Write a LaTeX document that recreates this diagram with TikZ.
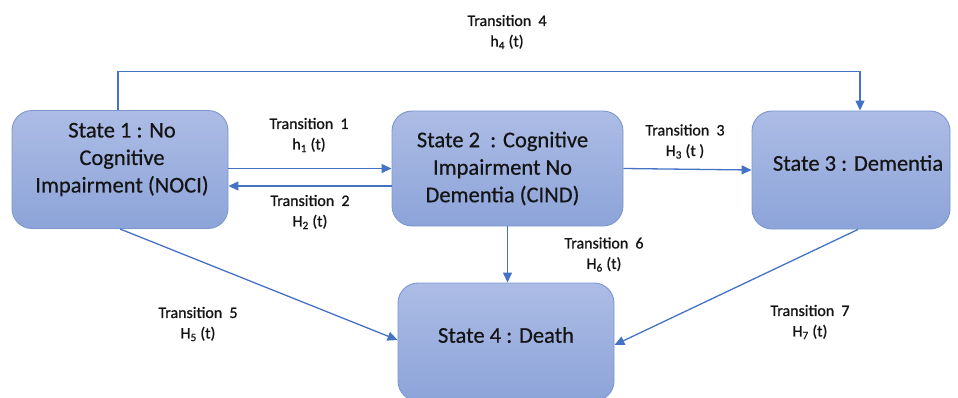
\documentclass[tikz,border=0pt]{standalone}
\usepackage{fontspec}
\setmainfont{Carlito}
\newfontfamily\heavyfont{Carlito}[FakeBold=0.5]
\newfontfamily\labelfont{Carlito}[FakeBold=0.9]
\usetikzlibrary{arrows.meta,calc}
\definecolor{boxtop}{HTML}{ACBCE5}
\definecolor{boxbot}{HTML}{8DA4D9}
\definecolor{boxline}{HTML}{7B96D0}
\definecolor{arrcol}{HTML}{4472C4}
\definecolor{txt}{HTML}{141414}
\tikzset{
  statebox/.style={rounded corners=20pt, draw=boxline, line width=0.9pt,
    top color=boxtop, bottom color=boxbot, inner sep=0pt},
  statetext/.style={text=txt, font=\heavyfont\fontsize{22.5}{27.5}\selectfont, align=center, inner sep=0pt},
  translabel/.style={text=txt, font=\labelfont\fontsize{16}{20.5}\selectfont, align=center, inner sep=0pt},
  arr/.style={draw=arrcol, line width=1.3pt, -{Triangle[length=10pt,width=9pt]}},
}
\begin{document}
\begin{tikzpicture}[x=1pt,y=-1pt]
\useasboundingbox (0,0) rectangle (958,397);
% boxes
\node[statebox, minimum width=216pt, minimum height=118pt] (s1) at (120,169.5) {};
\node[statebox, minimum width=231pt, minimum height=115pt] (s2) at (507.5,168.5) {};
\node[statebox, minimum width=198pt, minimum height=118pt] (s3) at (851,170) {};
\node[statebox, minimum width=216pt, minimum height=118pt] (s4) at (506,342) {};
% box texts
\node[statetext] (s1t) at ([xshift=2pt,yshift=10pt]s1.center) {State 1 : No\\Cognitive\\Impairment (NOCI)};
\node[statetext] (s2t) at ([xshift=-5pt]s2.center) {State 2\ \ : Cognitive\\Impairment No\\Dementia (CIND)};
\node[statetext] (s3t) at ([xshift=7pt,yshift=7pt]s3.center) {State 3 : Dementia};
\node[statetext] (s4t) at ([yshift=7pt]s4.center) {State 4 : Death};
% connectors
\draw[arr] (s1.east |- s2.west) -- (s2.west);
\draw[arr] ([yshift=-17.5pt]s2.west) -- ([yshift=-17.5pt]s2.west -| s1.east);
\draw[arr] (s2.east) -- (s3.west);
\draw[arr] ([xshift=-2pt]s1.north) -- ++(0,-38.5) -| ([xshift=9pt]s3.north);
\draw[arr] (s1.south) -- ([yshift=2pt]s4.west);
\draw[arr] (s2.south) -- (s2.south |- s4.north);
\draw[arr] ([xshift=7pt]s3.south) -- ([yshift=-3pt]s4.east);
% transition labels
\node[translabel] (l1) at (309,135) {Transition\hspace{0.45em}1\\h\textsubscript{1} (t)};
\node[translabel] (l2) at (310,212) {Transition\hspace{0.45em}2\\H\textsubscript{2} (t)};
\node[translabel] (l3) at (685,141.5) {Transition\hspace{0.45em}3\\H\textsubscript{3} (t )};
\node[translabel] (l4) at (507,32) {Transition\hspace{0.45em}4\\h\textsubscript{4} (t)};
\node[translabel] (l5) at (198,324) {Transition\hspace{0.45em}5\\H\textsubscript{5} (t)};
\node[translabel] (l6) at (604,254.5) {Transition\hspace{0.45em}6\\H\textsubscript{6} (t)};
\node[translabel] (l7) at (810,322) {Transition\hspace{0.45em}7\\H\textsubscript{7} (t)};
\end{tikzpicture}
\end{document}
